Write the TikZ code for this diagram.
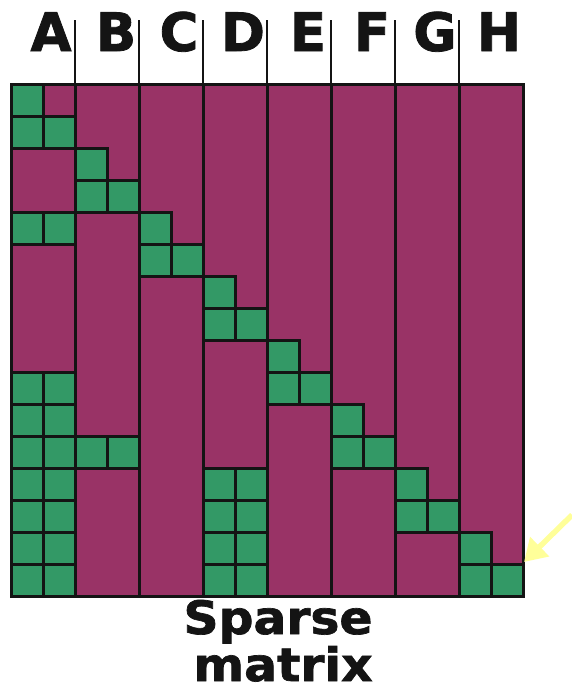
\documentclass[tikz,border=0pt]{standalone}
\usepackage{fontspec}
\newfontfamily\dvb{DejaVu Sans Bold}[FakeBold=1.5]
\usetikzlibrary{arrows.meta}
\definecolor{mpurple}{HTML}{993366}
\definecolor{mgreen}{HTML}{339966}
\definecolor{mblack}{HTML}{141414}
\definecolor{myellow}{HTML}{FFFF99}
\begin{document}
\begin{tikzpicture}[x=1pt,y=-1pt,
  gridline/.style={draw=mblack,line width=3pt},
  topline/.style={draw=mblack,line width=2pt},
  greencell/.style={fill=mgreen,draw=mblack,line width=3pt},
  collabel/.style={font=\dvb\fontsize{53}{53}\selectfont,text=mblack,anchor=base,inner sep=0pt},
  titletext/.style={font=\dvb\fontsize{46}{46}\selectfont,text=mblack,anchor=base,inner sep=0pt,xscale=1.06}]
\useasboundingbox (0,0) rectangle (571,691);
% purple background
\fill[mpurple] (11,84) rectangle (523,596);
% green cells
\foreach \r/\cs in {0/{0},1/{0,1},2/{2},3/{2,3},4/{0,1,4},5/{4,5},6/{6},7/{6,7},8/{8},9/{0,1,8,9},10/{0,1,10},11/{0,1,2,3,10,11},12/{0,1,6,7,12},13/{0,1,6,7,12,13},14/{0,1,6,7,14},15/{0,1,6,7,14,15}}{
  \foreach \c in \cs {
    \path[greencell] ({11+32*\c},{84+32*\r}) rectangle ++(32,32);
  }
}
% column boundaries
\foreach \x in {75,139,203,267,331,395,459}{
  \draw[topline] (\x,20) -- (\x,84);
  \draw[gridline] (\x,84) -- (\x,596);
}
\draw[gridline] (11,84) rectangle (523,596);
% column labels
\foreach \n/\l/\x in {a/A/51,b/B/116,c/C/179,d/D/243,e/E/308,f/F/372,g/G/435,h/H/499}{
  \node[collabel] (lab\n) at (\x,51) {\l};
}
% title
\node[titletext] (t1) at (278,634) {Sparse};
\node[titletext] (t2) at (283,681) {matrix};
% arrow
\coordinate (astart) at (572,515);
\coordinate (aend) at (524,562);
\draw[myellow,line width=5.5pt,-{Triangle[length=22pt,width=26pt]}] (astart) -- (aend);
\end{tikzpicture}
\end{document}
